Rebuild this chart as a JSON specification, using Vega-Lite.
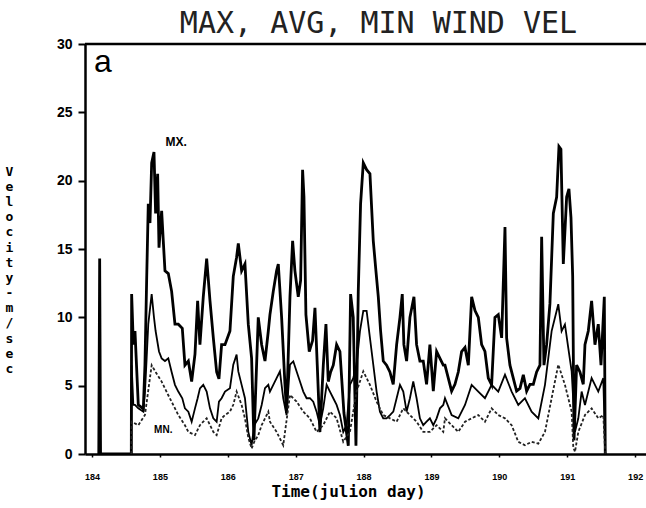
{
  "$schema": "https://vega.github.io/schema/vega-lite/v6.json",
  "width": 561,
  "height": 410,
  "autosize": {"type": "none"},
  "padding": {"left": 85, "top": 44, "right": 0, "bottom": 54},
  "background": "white",
  "config": {"view": {"stroke": null}},
  "title": {"text": "MAX, AVG, MIN WIND VEL", "font": "DejaVu Sans Mono", "fontSize": 30, "fontWeight": "normal", "color": "#222", "anchor": "middle", "dx": 13, "offset": -26, "baseline": "alphabetic"},
  "datasets": {
    "maxv": [
      {"day":184.100,"v":0},{"day":184.113,"v":14.3},{"day":184.126,"v":0},{"day":184.579,"v":0},
      {"day":184.584,"v":11.7},{"day":184.609,"v":8.0},{"day":184.633,"v":9.0},{"day":184.682,"v":3.6},{"day":184.756,"v":3.3},{"day":184.780,"v":6.5},{"day":184.805,"v":12.7},{"day":184.829,"v":18.3},{"day":184.854,"v":16.9},{"day":184.879,"v":21.3},{"day":184.913,"v":22.1},{"day":184.937,"v":17.6},{"day":184.967,"v":20.5},{"day":184.987,"v":15.1},{"day":185.026,"v":17.8},{"day":185.050,"v":15.6},{"day":185.075,"v":13.4},{"day":185.124,"v":13.2},{"day":185.173,"v":11.9},{"day":185.222,"v":9.5},{"day":185.271,"v":9.5},{"day":185.330,"v":9.2},{"day":185.369,"v":6.5},{"day":185.419,"v":6.8},{"day":185.468,"v":5.3},{"day":185.517,"v":7.3},{"day":185.556,"v":11.2},{"day":185.590,"v":8.0},{"day":185.639,"v":11.5},{"day":185.689,"v":14.3},{"day":185.738,"v":11.2},{"day":185.787,"v":8.5},{"day":185.836,"v":6.0},{"day":185.870,"v":5.5},{"day":185.909,"v":8.0},{"day":185.959,"v":8.0},{"day":186.032,"v":9.0},{"day":186.081,"v":13.0},{"day":186.130,"v":14.4},{"day":186.155,"v":15.4},{"day":186.204,"v":13.4},{"day":186.253,"v":13.9},{"day":186.302,"v":9.5},{"day":186.351,"v":7.0},{"day":186.385,"v":1.0},{"day":186.449,"v":10.0},{"day":186.499,"v":8.0},{"day":186.548,"v":6.8},{"day":186.597,"v":9.0},
      {"day":186.621,"v":10.2},{"day":186.670,"v":11.9},{"day":186.719,"v":13.4},{"day":186.744,"v":13.9},{"day":186.793,"v":10.0},{"day":186.842,"v":5.1},{"day":186.866,"v":3.0},{"day":186.916,"v":11.5},{"day":186.955,"v":15.6},{"day":186.989,"v":13.4},{"day":187.038,"v":11.5},{"day":187.073,"v":12.7},{"day":187.102,"v":20.8},{"day":187.122,"v":18.8},{"day":187.151,"v":10.2},{"day":187.200,"v":7.5},{"day":187.249,"v":8.3},{"day":187.284,"v":10.7},{"day":187.318,"v":6.5},{"day":187.357,"v":1.6},{"day":187.407,"v":6.5},{"day":187.446,"v":9.5},{"day":187.480,"v":5.3},{"day":187.515,"v":6.0},{"day":187.554,"v":6.5},{"day":187.603,"v":8.0},{"day":187.652,"v":7.5},{"day":187.711,"v":3.0},{"day":187.775,"v":0.6},{"day":187.809,"v":11.7},{"day":187.848,"v":10.0},{"day":187.888,"v":0.6},{"day":187.922,"v":11.9},{"day":187.956,"v":18.3},{"day":187.996,"v":21.3},{"day":188.045,"v":20.8},{"day":188.094,"v":20.5},{"day":188.143,"v":15.6},{"day":188.182,"v":13.4},{"day":188.217,"v":11.5},{"day":188.251,"v":9.0},{"day":188.290,"v":6.8},{"day":188.339,"v":6.5},{"day":188.388,"v":6.0},{"day":188.437,"v":5.1},{"day":188.487,"v":8.0},{"day":188.536,"v":10.0},{"day":188.570,"v":11.7},{"day":188.594,"v":8.0},{"day":188.634,"v":6.8},{"day":188.683,"v":10.0},{"day":188.742,"v":11.5},{"day":188.781,"v":8.0},{"day":188.830,"v":6.8},{"day":188.879,"v":6.8},{"day":188.928,"v":5.1},{"day":188.977,"v":8.0},{"day":189.027,"v":4.6},{"day":189.076,"v":7.5},{"day":189.125,"v":7.0},{"day":189.174,"v":6.5},
      {"day":189.199,"v":6.5},{"day":189.248,"v":5.55},{"day":189.297,"v":4.6},{"day":189.346,"v":5.1},{"day":189.395,"v":6.0},{"day":189.444,"v":7.5},{"day":189.494,"v":7.8},{"day":189.543,"v":6.5},{"day":189.592,"v":11.5},{"day":189.641,"v":10.5},{"day":189.690,"v":10.0},{"day":189.739,"v":8.0},{"day":189.788,"v":7.5},{"day":189.837,"v":5.55},{"day":189.886,"v":5.06},{"day":189.935,"v":10.0},{"day":189.984,"v":10.2},{"day":190.034,"v":8.5},{"day":190.083,"v":16.6},{"day":190.107,"v":8.5},{"day":190.156,"v":6.5},{"day":190.205,"v":5.55},{"day":190.254,"v":4.6},{"day":190.304,"v":4.8},{"day":190.353,"v":5.8},{"day":190.402,"v":4.6},{"day":190.451,"v":5.1},{"day":190.500,"v":5.1},{"day":190.549,"v":6.0},{"day":190.598,"v":6.5},{"day":190.623,"v":15.9},{"day":190.657,"v":6.5},{"day":190.696,"v":8.0},{"day":190.745,"v":11.0},{"day":190.795,"v":17.6},{"day":190.844,"v":18.8},{"day":190.878,"v":22.5},{"day":190.907,"v":22.3},{"day":190.942,"v":13.9},{"day":190.991,"v":18.8},{"day":191.025,"v":19.4},{"day":191.055,"v":17.3},{"day":191.080,"v":13.0},{"day":191.100,"v":1.0},{"day":191.138,"v":6.5},{"day":191.187,"v":6.0},{"day":191.236,"v":5.1},{"day":191.261,"v":8.0},{"day":191.310,"v":9.0},{"day":191.359,"v":11.2},{"day":191.408,"v":8.0},{"day":191.457,"v":9.5},{"day":191.497,"v":6.5},{"day":191.546,"v":11.5},{"day":191.560,"v":0}
    ],
    "avgv": [
      {"day":184.579,"v":0},{"day":184.584,"v":6.5},{"day":184.609,"v":3.6},{"day":184.633,"v":3.6},{"day":184.682,"v":3.34},{"day":184.756,"v":3.1},{"day":184.780,"v":4.5},{"day":184.805,"v":7.0},{"day":184.829,"v":9.5},{"day":184.879,"v":11.7},{"day":184.913,"v":10.0},{"day":184.937,"v":9.0},{"day":184.987,"v":7.5},{"day":185.026,"v":7.0},{"day":185.075,"v":6.8},{"day":185.124,"v":7.0},{"day":185.173,"v":6.0},{"day":185.222,"v":5.06},{"day":185.271,"v":4.57},{"day":185.330,"v":4.08},{"day":185.369,"v":3.34},{"day":185.419,"v":3.1},{"day":185.468,"v":2.36},{"day":185.517,"v":3.34},{"day":185.556,"v":4.08},{"day":185.590,"v":4.8},{"day":185.639,"v":5.06},{"day":185.689,"v":4.57},{"day":185.738,"v":3.34},{"day":185.787,"v":2.61},{"day":185.836,"v":2.36},{"day":185.870,"v":3.83},{"day":185.909,"v":4.08},{"day":185.959,"v":4.57},{"day":186.032,"v":4.82},{"day":186.081,"v":6.54},{"day":186.130,"v":7.27},{"day":186.155,"v":6.04},{"day":186.204,"v":5.06},{"day":186.253,"v":4.08},{"day":186.302,"v":1.62},{"day":186.351,"v":0.64},{"day":186.391,"v":2.11},{"day":186.449,"v":2.61},{"day":186.499,"v":3.59},{"day":186.548,"v":4.82},{"day":186.597,"v":5.06},
      {"day":186.621,"v":4.57},{"day":186.670,"v":5.06},{"day":186.719,"v":5.55},{"day":186.768,"v":6.04},{"day":186.817,"v":4.08},{"day":186.866,"v":2.85},{"day":186.916,"v":6.54},{"day":186.965,"v":6.78},{"day":187.014,"v":6.04},{"day":187.063,"v":5.31},{"day":187.112,"v":4.57},{"day":187.161,"v":4.08},{"day":187.210,"v":4.08},{"day":187.259,"v":3.83},{"day":187.308,"v":3.10},{"day":187.357,"v":2.11},{"day":187.406,"v":3.34},{"day":187.456,"v":5.06},{"day":187.505,"v":4.57},{"day":187.554,"v":4.08},{"day":187.603,"v":3.59},{"day":187.652,"v":2.85},{"day":187.701,"v":1.62},{"day":187.750,"v":2.11},{"day":187.799,"v":5.06},{"day":187.848,"v":5.55},{"day":187.897,"v":6.54},{"day":187.947,"v":8.99},{"day":187.996,"v":10.47},{"day":188.045,"v":10.47},{"day":188.094,"v":8.50},{"day":188.143,"v":6.54},{"day":188.192,"v":4.57},{"day":188.241,"v":3.10},{"day":188.290,"v":2.61},{"day":188.339,"v":2.61},{"day":188.389,"v":2.85},{"day":188.438,"v":3.10},{"day":188.487,"v":4.08},{"day":188.536,"v":5.06},{"day":188.585,"v":4.57},{"day":188.634,"v":3.10},{"day":188.683,"v":4.08},{"day":188.732,"v":5.31},{"day":188.781,"v":4.08},{"day":188.830,"v":2.61},{"day":188.879,"v":2.11},{"day":188.928,"v":2.36},{"day":188.977,"v":2.61},{"day":189.027,"v":2.11},{"day":189.076,"v":2.61},{"day":189.125,"v":3.34},{"day":189.174,"v":3.59},
      {"day":189.199,"v":4.08},{"day":189.297,"v":2.85},{"day":189.395,"v":2.61},{"day":189.494,"v":3.59},{"day":189.592,"v":5.06},{"day":189.690,"v":4.57},{"day":189.788,"v":4.08},{"day":189.886,"v":5.06},{"day":189.984,"v":4.57},{"day":190.083,"v":5.80},{"day":190.181,"v":4.57},{"day":190.279,"v":3.59},{"day":190.377,"v":4.08},{"day":190.475,"v":3.10},{"day":190.574,"v":2.61},{"day":190.672,"v":5.06},{"day":190.770,"v":8.99},{"day":190.868,"v":10.96},{"day":190.917,"v":8.99},{"day":190.966,"v":9.48},{"day":191.015,"v":7.76},{"day":191.065,"v":6.04},{"day":191.114,"v":1.62},{"day":191.163,"v":2.61},{"day":191.212,"v":4.57},{"day":191.261,"v":3.59},{"day":191.359,"v":5.55},{"day":191.457,"v":4.57},{"day":191.531,"v":5.55},{"day":191.560,"v":0}
    ],
    "minv": [
      {"day":184.579,"v":0},{"day":184.584,"v":2.36},{"day":184.682,"v":2.11},{"day":184.780,"v":2.85},{"day":184.879,"v":6.5},{"day":184.937,"v":6.0},{"day":185.026,"v":5.3},{"day":185.124,"v":4.3},{"day":185.222,"v":3.34},{"day":185.271,"v":2.85},{"day":185.369,"v":2.1},{"day":185.419,"v":1.62},{"day":185.517,"v":1.38},{"day":185.590,"v":2.11},{"day":185.639,"v":2.36},{"day":185.689,"v":2.61},{"day":185.787,"v":1.62},{"day":185.836,"v":1.38},{"day":185.909,"v":2.61},{"day":185.959,"v":2.85},{"day":186.032,"v":3.10},{"day":186.081,"v":3.6},{"day":186.130,"v":4.57},{"day":186.204,"v":3.59},{"day":186.253,"v":2.6},{"day":186.302,"v":1.2},{"day":186.351,"v":0.4},{"day":186.391,"v":0.9},{"day":186.449,"v":1.38},{"day":186.499,"v":2.11},{"day":186.548,"v":2.6},{"day":186.597,"v":3.1},
      {"day":186.621,"v":2.36},{"day":186.719,"v":1.62},{"day":186.817,"v":0.64},{"day":186.916,"v":4.32},{"day":187.014,"v":3.83},{"day":187.112,"v":3.10},{"day":187.210,"v":2.61},{"day":187.308,"v":1.62},{"day":187.406,"v":2.11},{"day":187.505,"v":3.10},{"day":187.603,"v":2.61},{"day":187.701,"v":0.89},{"day":187.799,"v":1.62},{"day":187.897,"v":4.57},{"day":187.996,"v":6.04},{"day":188.094,"v":5.06},{"day":188.192,"v":3.83},{"day":188.290,"v":2.85},{"day":188.389,"v":2.61},{"day":188.487,"v":2.36},{"day":188.585,"v":3.34},{"day":188.683,"v":2.85},{"day":188.781,"v":2.36},{"day":188.879,"v":1.62},{"day":188.977,"v":1.62},{"day":189.076,"v":2.11},{"day":189.174,"v":1.62},
      {"day":189.199,"v":2.61},{"day":189.297,"v":2.11},{"day":189.395,"v":1.62},{"day":189.494,"v":2.36},{"day":189.592,"v":2.61},{"day":189.690,"v":2.85},{"day":189.788,"v":2.36},{"day":189.886,"v":3.34},{"day":189.984,"v":2.85},{"day":190.083,"v":2.61},{"day":190.181,"v":2.11},{"day":190.279,"v":0.89},{"day":190.377,"v":0.64},{"day":190.475,"v":0.89},{"day":190.574,"v":0.76},{"day":190.672,"v":1.62},{"day":190.770,"v":4.08},{"day":190.868,"v":6.54},{"day":190.966,"v":5.06},{"day":191.065,"v":3.10},{"day":191.089,"v":0.5},{"day":191.114,"v":0.15},{"day":191.163,"v":1.62},{"day":191.261,"v":2.85},{"day":191.359,"v":3.34},{"day":191.457,"v":2.61},{"day":191.531,"v":2.85},{"day":191.560,"v":0}
    ],
    "notes": [
      {"day":185.24,"v":22.8,"label":"MX."},
      {"day":185.05,"v":1.75,"label":"MN."},
      {"day":184.16,"v":28.7,"label":"a"}
    ]
  },
  "layer": [
    {
      "data": {"name": "maxv"},
      "mark": {"type": "line", "color": "black", "strokeWidth": 2.8, "clip": true},
      "encoding": {
        "x": {"field": "day", "type": "quantitative",
          "scale": {"domain": [183.897, 192.16], "nice": false, "zero": false},
          "axis": {"values": [184,185,186,187,188,189,190,191,192], "format": "d", "title": "Time(julion day)",
            "titleFont": "DejaVu Sans Mono", "titleFontSize": 16, "titleFontWeight": "bold", "titleColor": "black",
            "titleX": 263, "titleY": 42, "titleAlign": "center", "titleBaseline": "alphabetic",
            "labelFont": "Liberation Sans", "labelFontSize": 9, "labelFontWeight": "bold", "labelColor": "black",
            "labelPadding": 15, "labelFlush": false, "tickSize": 3, "tickColor": "black", "tickWidth": 1.5,
            "domainColor": "black", "domainWidth": 2.5, "grid": false}},
        "y": {"field": "v", "type": "quantitative",
          "scale": {"domain": [0, 30], "nice": false},
          "axis": {"values": [0,5,10,15,20,25,30],
            "title": ["V","e","l","o","c","i","t","y","-","m","/","s","e","c"],
            "titleAngle": 0, "titleX": -76, "titleY": 121, "titleAlign": "center", "titleBaseline": "top",
            "titleLineHeight": 15.2, "titleFont": "DejaVu Sans Mono", "titleFontSize": 13, "titleFontWeight": "bold", "titleColor": "black",
            "labelFont": "Liberation Sans", "labelFontSize": 14, "labelFontWeight": "bold", "labelColor": "black",
            "labelPadding": 6, "tickSize": 7, "tickWidth": 2, "tickColor": "black",
            "domainWidth": 2.5, "domainColor": "black", "grid": false}}
      }
    },
    {
      "data": {"name": "avgv"},
      "mark": {"type": "line", "color": "black", "strokeWidth": 1.8, "clip": true},
      "encoding": {
        "x": {"field": "day", "type": "quantitative"},
        "y": {"field": "v", "type": "quantitative"}
      }
    },
    {
      "data": {"name": "minv"},
      "mark": {"type": "line", "color": "#222", "strokeWidth": 1.8, "strokeDash": [3, 2], "clip": true},
      "encoding": {
        "x": {"field": "day", "type": "quantitative"},
        "y": {"field": "v", "type": "quantitative"}
      }
    },
    {
      "data": {"values": [{}]},
      "mark": {"type": "rule", "color": "black", "strokeWidth": 2.5},
      "encoding": {"y": {"datum": 30}}
    },
    {
      "data": {"name": "notes"},
      "transform": [{"filter": "datum.label === 'MX.'"}],
      "mark": {"type": "text", "font": "Liberation Sans", "fontSize": 12, "fontWeight": "bold", "color": "black", "baseline": "middle", "align": "center"},
      "encoding": {
        "x": {"field": "day", "type": "quantitative"},
        "y": {"field": "v", "type": "quantitative"},
        "text": {"field": "label"}
      }
    },
    {
      "data": {"name": "notes"},
      "transform": [{"filter": "datum.label === 'MN.'"}],
      "mark": {"type": "text", "font": "Liberation Sans", "fontSize": 10, "fontWeight": "bold", "color": "black", "baseline": "middle", "align": "center"},
      "encoding": {
        "x": {"field": "day", "type": "quantitative"},
        "y": {"field": "v", "type": "quantitative"},
        "text": {"field": "label"}
      }
    },
    {
      "data": {"name": "notes"},
      "transform": [{"filter": "datum.label === 'a'"}],
      "mark": {"type": "text", "font": "Liberation Sans", "fontSize": 32, "fontWeight": "normal", "color": "black", "baseline": "middle", "align": "center"},
      "encoding": {
        "x": {"field": "day", "type": "quantitative"},
        "y": {"field": "v", "type": "quantitative"},
        "text": {"field": "label"}
      }
    }
  ]
}
